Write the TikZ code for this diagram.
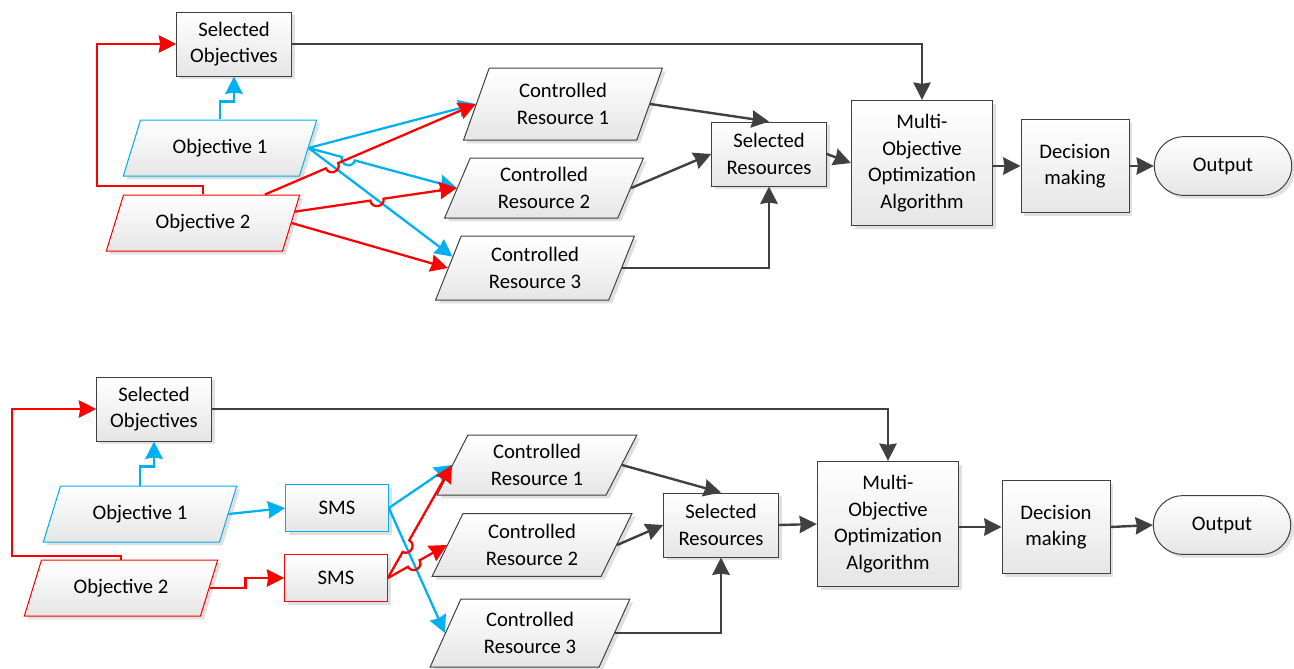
\documentclass[tikz,border=0pt]{standalone}
\usepackage{fontspec}
\setmainfont{Carlito}
\usetikzlibrary{shapes.geometric,shadows,calc,intersections,arrows.meta}

\definecolor{objblue}{RGB}{0,176,240}
\definecolor{objred}{RGB}{255,0,0}
\definecolor{darkline}{RGB}{64,64,64}

\tikzset{
  procbox/.style={draw=darkline, line width=0.75pt, top color=white, bottom color=black!10,
    drop shadow={shadow xshift=2.5pt, shadow yshift=-2.5pt, fill=black, opacity=0.12},
    align=center, inner sep=2pt, font=\fontsize{15.5}{20}\selectfont},
  iobox/.style={procbox, trapezium, trapezium left angle=65, trapezium right angle=115,
    trapezium stretches=true},
  selbox/.style={procbox, minimum width=86pt, minimum height=48pt},
  objpara/.style={iobox, minimum width=146pt, minimum height=42pt},
  respara/.style={iobox, minimum width=150pt, minimum height=48pt},
  smsbox/.style={procbox, minimum width=77pt, minimum height=35pt},
  algbox/.style={procbox, minimum width=106pt, minimum height=94pt},
  decbox/.style={procbox, minimum width=81pt, minimum height=70pt},
  outterm/.style={procbox, minimum width=103pt, minimum height=44pt, rounded corners=22pt},
  tip/.style={-{Stealth[length=13pt,width=13pt,inset=1pt]}},
  blueline/.style={draw=objblue, line width=1.7pt, tip},
  redline/.style={draw=objred, line width=1.7pt, tip},
  grayline/.style={draw=darkline, line width=1.8pt, tip}
}

% line with a small jump over the crossing point #4
\newcommand{\hopto}[4]{%
  \draw[#1] (#2) -- ($(#4)!5pt!(#2)$)
    .. controls ($(#4)!5pt!(#2)!6.5pt!90:(#4)$) and ($(#4)!5pt!(#3)!6.5pt!-90:(#4)$)
    .. ($(#4)!5pt!(#3)$) -- (#3);}

\begin{document}
\begin{tikzpicture}[x=0.75pt,y=0.75pt,yscale=-1,xscale=1]
\useasboundingbox (0,0) rectangle (1294,668);

%% upper diagram
% Objective nodes
\node[selbox] (selU) at (234,44) {Selected\\Objectives};
\node[objpara, draw=objblue] (objAU) at (220,148) {Objective 1};
\node[objpara, draw=objred] (objBU) at (203,223) {Objective 2};
% Resource nodes
\node[respara, minimum height=54pt, trapezium left angle=70, trapezium right angle=110] (resAU) at (563,104) {Controlled\\Resource 1};
\node[respara, minimum height=45pt, trapezium left angle=70, trapezium right angle=110] (resBU) at (544,188) {Controlled\\Resource 2};
\node[respara, trapezium left angle=70, trapezium right angle=110] (resCU) at (535,268) {Controlled\\Resource 3};
\node[selbox] (selresU) at (769,154) {Selected\\Resources};
% Algorithm and output
\node[algbox] (mooU) at (922,163) {Multi-\\Objective\\Optimization\\Algorithm};
\node[decbox] (decU) at (1075,166) {Decision\\making};
\node[outterm] (outU) at (1223,166) {Output};

% crossings
\coordinate (bCU) at ($(resCU.west)!0.35!(resCU.top left corner)$);
\coordinate (rAU) at ($(objBU.top left corner)!0.8!(objBU.top right corner)$);
\coordinate (rBU) at ($(objBU.top right corner)!0.3!(objBU.bottom right corner)$);
\path[name path=blBU] (objAU.east) -- (resBU.west);
\path[name path=blCU] (objAU.east) -- (bCU);
\path[name path=rdAU] (rAU) -- (resAU.west);
\path[name path=rdBU] (rBU) -- (resBU.west);
\path[name intersections={of=blCU and rdAU, by=xAU}];
\path[name intersections={of=blBU and rdAU, by=xBU}];
\path[name intersections={of=blCU and rdBU, by=xCU}];

% Objective 1 links
\draw[blueline] (objAU.north) -- ++(0,-18) -| (selU.south);
\draw[blueline] (objAU.east) -- (resAU.west);
\draw[blueline] (objAU.east) -- (bCU);
\hopto{blueline}{objAU.east}{resBU.west}{xBU}
% Objective 2 links
\coordinate (loopU) at (97,186);
\draw[redline] (objBU.north) |- (loopU) |- (selU.west);
\hopto{redline}{rAU}{resAU.west}{xAU}
\hopto{redline}{rBU}{resBU.west}{xCU}
\draw[redline] (objBU.east) -- (resCU.west);
% Gray links
\draw[grayline] (selU.east) -| (mooU.north);
\draw[grayline] (resAU.east) -- (selresU.north);
\draw[grayline] (resBU.east) -- (selresU.west);
\draw[grayline] (resCU.east) -| (selresU.south);
\draw[grayline] (selresU.east) -- (mooU.west);
\draw[grayline] (mooU.east |- decU.west) -- (decU.west);
\draw[grayline] (decU.east) -- (outU.west);

%% lower diagram
% Objective nodes
\node[selbox] (selL) at (154,409) {Selected\\Objectives};
\node[objpara, draw=objblue] (objAL) at (140,514) {Objective 1};
\node[objpara, draw=objred] (objBL) at (121,588) {Objective 2};
\node[smsbox, draw=objblue] (smsAL) at (337,508) {SMS};
\node[smsbox, draw=objred] (smsBL) at (336,578) {SMS};
% Resource nodes
\node[respara, minimum height=45pt] (resAL) at (537,465) {Controlled\\Resource 1};
\node[respara, minimum height=47pt] (resBL) at (532,545) {Controlled\\Resource 2};
\node[respara, minimum height=51pt] (resCL) at (530,633) {Controlled\\Resource 3};
\node[selbox] (selresL) at (721,525) {Selected\\Resources};
% Algorithm and output
\node[algbox] (mooL) at (888,524) {Multi-\\Objective\\Optimization\\Algorithm};
\node[decbox] (decL) at (1056,527) {Decision\\making};
\node[outterm] (outL) at (1222,525) {Output};

% crossings
\path[name path=blCL] (smsAL.east) -- (resCL.west);
\path[name path=rdAL] (smsBL.east) -- (resAL.west);
\path[name path=rdBL] (smsBL.east) -- (resBL.west);
\path[name intersections={of=blCL and rdAL, by=xAL}];
\path[name intersections={of=blCL and rdBL, by=xBL}];

% Objective 1 links
\draw[blueline] (objAL.north) -- ++(0,-19) -| (selL.south);
\draw[blueline] (objAL.east) -- (smsAL.west);
\draw[blueline] (smsAL.east) -- (resAL.west);
\draw[blueline] (smsAL.east) -- (resCL.west);
% Objective 2 links
\coordinate (loopL) at (12,556);
\draw[redline] (objBL.north) |- (loopL) |- (selL.west);
\draw[redline] (objBL.east) -- ++(36,0) |- (smsBL.west);
\hopto{redline}{smsBL.east}{resAL.west}{xAL}
\hopto{redline}{smsBL.east}{resBL.west}{xBL}
% Gray links
\draw[grayline] (selL.east) -| (mooL.north);
\draw[grayline] (resAL.east) -- (selresL.north);
\draw[grayline] (resBL.east) -- (selresL.west);
\draw[grayline] (resCL.east) -| (selresL.south);
\draw[grayline] (selresL.east) -- (mooL.west);
\draw[grayline] (mooL.east |- decL.west) -- (decL.west);
\draw[grayline] (decL.east) -- (outL.west);

\end{tikzpicture}
\end{document}
